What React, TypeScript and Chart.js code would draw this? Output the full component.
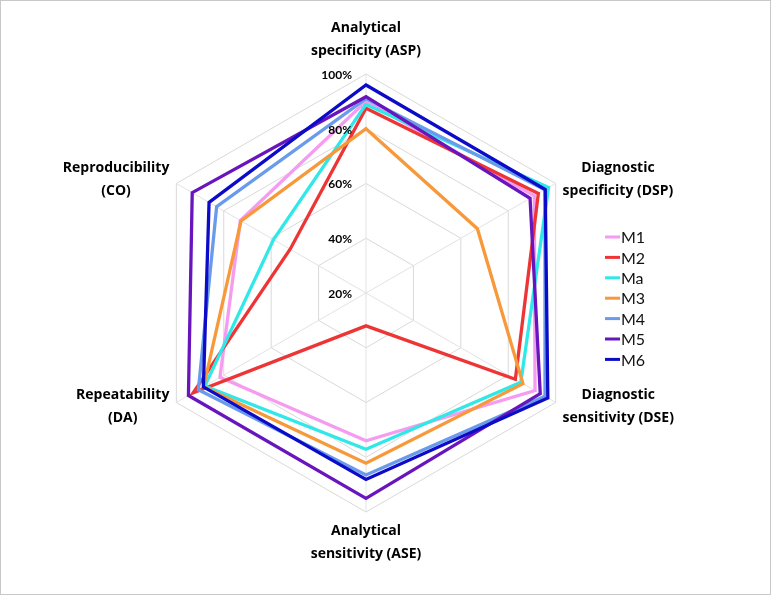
import { useEffect, useRef } from 'react';
import { Chart, registerables } from 'chart.js';

Chart.register(...registerables);

const axisLabels: string[][] = [
  ['Analytical', 'specificity (ASP)'],
  ['Diagnostic', 'specificity (DSP)'],
  ['Diagnostic', 'sensitivity (DSE)'],
  ['Analytical', 'sensitivity (ASE)'],
  ['Repeatability', '(DA)'],
  ['Reproducibility', '(CO)'],
];

const seriesNames = ['M1', 'M2', 'Ma', 'M3', 'M4', 'M5', 'M6'];
const seriesColors = ['#F59BF0', '#EE3535', '#30E8E8', '#F7993A', '#6A9BEB', '#6915BE', '#0B0BC8'];

// values in percent: ASP, DSP, DSE, ASE, DA, CO
const m1 = [90, 91, 91.3, 74, 81.6, 73];
const m2 = [87.5, 92.7, 83, 32, 92.9, 52];
const ma = [88.9, 97, 85.3, 77.1, 88, 59];
const m3 = [80, 67, 86.2, 82.2, 88.5, 72.7];
const m4 = [91, 95.5, 95.5, 86.5, 90.7, 83];
const m5 = [91.7, 89.2, 93.5, 95, 94.9, 93.3];
const m6 = [96, 95.6, 96.7, 88.1, 88.6, 86.2];
const seriesValues = [m1, m2, ma, m3, m4, m5, m6];

const tickValues = [20, 40, 60, 80, 100];

const FONT = 'Lato, "Open Sans", sans-serif';
const LABEL_FONT = '"Open Sans", Lato, sans-serif';

const decorPlugin = {
  id: 'decor',
  beforeDraw(chart: any) {
    const { ctx, width, height } = chart;
    ctx.save();
    ctx.fillStyle = '#ffffff';
    ctx.fillRect(0, 0, width, height);
    ctx.restore();
  },
  afterDraw(chart: any) {
    const { ctx, width, height } = chart;
    const s = chart.scales.r;
    ctx.save();
    // tick labels
    ctx.font = `bold 12px ${FONT}`;
    ctx.fillStyle = '#000';
    ctx.textAlign = 'right';
    ctx.textBaseline = 'middle';
    tickValues.forEach((v) => {
      const d = s.getDistanceFromCenterForValue(v);
      ctx.fillText(`${v}%`, s.xCenter - 14, s.yCenter - d + 1);
    });
    // point labels
    ctx.font = `bold 14px ${LABEL_FONT}`;
    ctx.textAlign = 'center';
    const lineH = 22.5;
    axisLabels.forEach((lines, i) => {
      const p = s.getPointPosition(i, s.drawingArea + 8);
      const w = Math.max(...lines.map((t) => ctx.measureText(t).width));
      const h = lines.length * lineH;
      const cos = Math.cos(p.angle);
      const sin = Math.sin(p.angle);
      let cx: number;
      let cy: number;
      if (Math.abs(cos) < 0.01) {
        cx = p.x;
        cy = sin < 0 ? p.y - 4 - h / 2 : p.y + h / 2;
      } else {
        cx = cos > 0 ? p.x + w / 2 : p.x - w / 2;
        cy = p.y;
      }
      lines.forEach((t, k) => ctx.fillText(t, cx, cy - h / 2 + lineH * (k + 0.5)));
    });
    // legend
    const lx = 605;
    const ly = 237;
    const step = 20.4;
    ctx.font = `16px ${FONT}`;
    ctx.textAlign = 'left';
    chart.data.datasets.forEach((ds: any, i: number) => {
      const y = ly + i * step;
      ctx.strokeStyle = ds.borderColor;
      ctx.lineWidth = 3;
      ctx.beginPath();
      ctx.moveTo(lx, y);
      ctx.lineTo(lx + 15, y);
      ctx.stroke();
      ctx.fillStyle = '#111';
      ctx.fillText(ds.label, lx + 16, y + 1);
    });
    // frame
    ctx.strokeStyle = '#c8c8c8';
    ctx.lineWidth = 1;
    ctx.strokeRect(0.5, 0.5, width - 1, height - 1);
    ctx.restore();
  },
};

export default function App() {
  const ref = useRef<HTMLCanvasElement>(null);
  useEffect(() => {
    if (!ref.current) return;
    const chart = new Chart(ref.current, {
      type: 'radar',
      data: {
        labels: axisLabels.map((l) => l.join(' ')),
        datasets: seriesNames.map((name, i) => ({
          label: name,
          data: seriesValues[i],
          borderColor: seriesColors[i],
          backgroundColor: 'transparent',
          borderWidth: 3.3,
          pointRadius: 0,
          pointHoverRadius: 0,
          fill: false,
          tension: 0,
          order: seriesNames.length - i,
        })),
      },
      options: {
        animation: false,
        responsive: false,
        devicePixelRatio: 1,
        layout: { padding: { left: 147, right: 186, top: 74, bottom: 83 } },
        plugins: { legend: { display: false }, tooltip: { enabled: false } },
        scales: {
          r: {
            min: 20,
            max: 100,
            ticks: { stepSize: 20, display: false },
            grid: { color: '#d9d9d9', lineWidth: 1 },
            angleLines: { color: '#e3e3e3', lineWidth: 1 },
            pointLabels: { display: false },
          },
        },
      },
      plugins: [decorPlugin],
    });
    return () => chart.destroy();
  }, []);
  return (
    <div style={{ position: 'absolute', left: 0, top: 0, width: 771, height: 595 }}>
      <canvas ref={ref} width={771} height={595} style={{ display: 'block' }} />
    </div>
  );
}
